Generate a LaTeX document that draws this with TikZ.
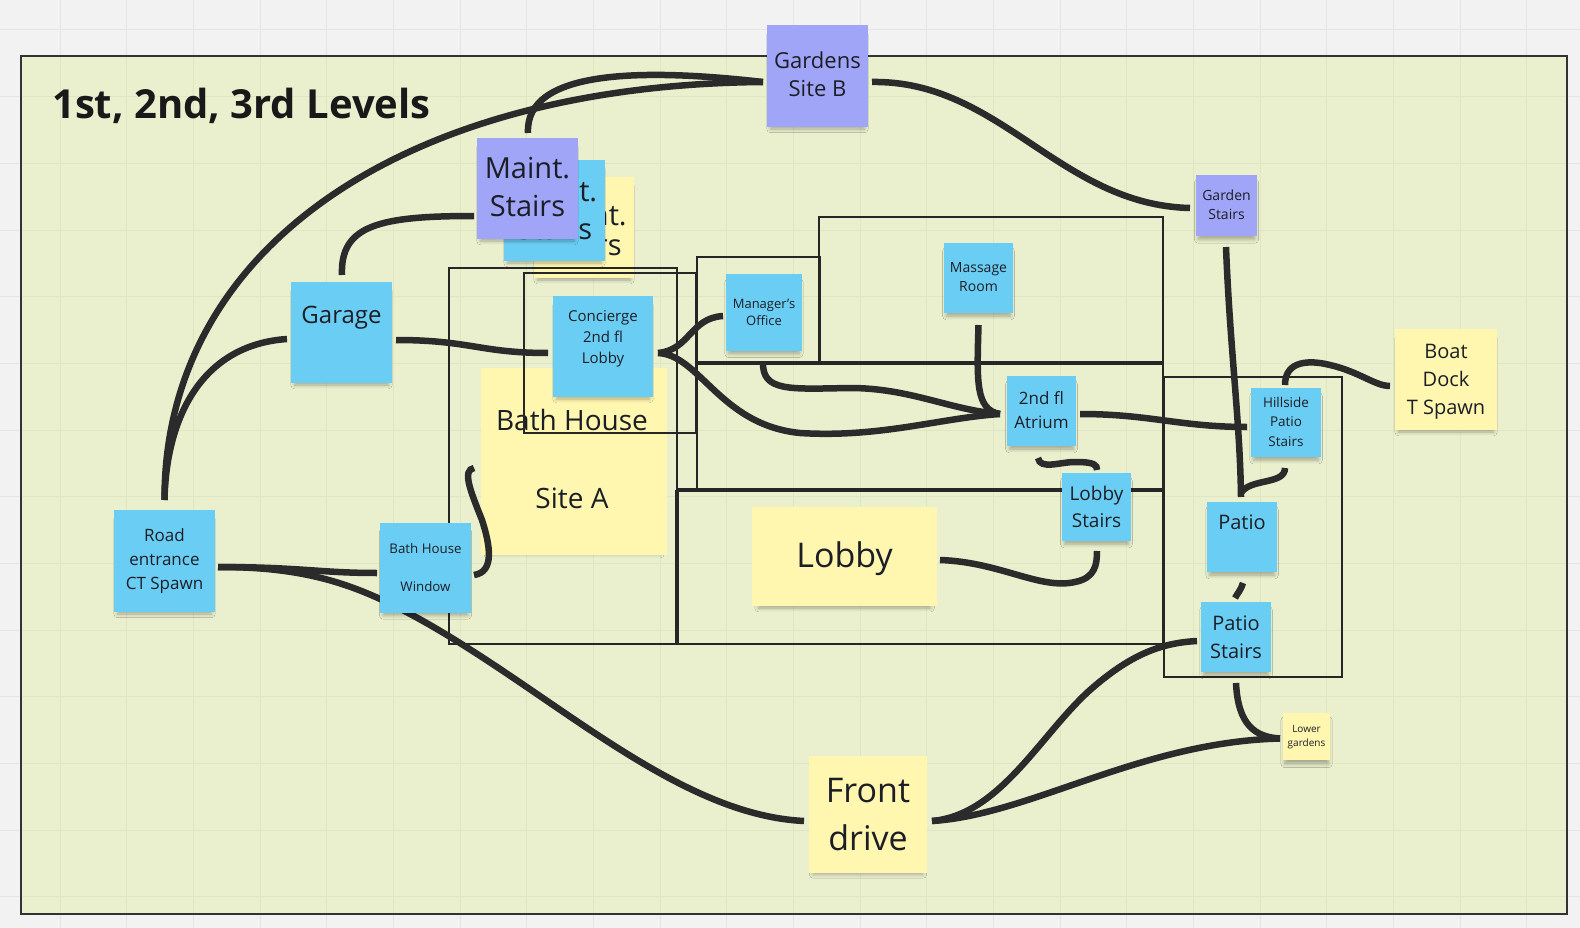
\documentclass[tikz,border=0pt]{standalone}
\usepackage{fontspec}
\setmainfont{Open Sans}
\usetikzlibrary{calc,shadows.blur}
\definecolor{outbg}{RGB}{242,242,242}
\definecolor{outgrid}{RGB}{229,229,229}
\definecolor{framebg}{RGB}{234,240,206}
\definecolor{ingrid}{RGB}{223,230,195}
\definecolor{nblue}{RGB}{106,206,244}
\definecolor{npurple}{RGB}{160,165,248}
\definecolor{nyellow}{RGB}{255,246,176}
\definecolor{ink}{RGB}{28,30,38}
\definecolor{wire}{RGB}{43,43,43}
\newcommand{\stfont}[1]{\fontsize{#1}{#1}\selectfont}
\begin{document}
\begin{tikzpicture}[x=1pt,y=-1pt,
  sticky/.style={inner sep=0pt, outer sep=0pt, blur shadow={shadow xshift=0pt, shadow yshift=-6pt, shadow blur radius=4pt, shadow blur steps=6, shadow opacity=30, shadow scale=0.93}},
  lbl/.style={anchor=base, inner sep=0pt, text=ink},
  wall/.style={draw=black!85, line width=1.4pt},
  thickwall/.style={draw=black!85, line width=3.2pt},
  link/.style={draw=wire, line width=6.5pt}]
\useasboundingbox (0,0) rectangle (1580,928);
% background, grid and board frame
\fill[outbg] (0,0) rectangle (1580,928);
\foreach \k in {0,...,22} \draw[outgrid, line width=1pt] ({60+66.667*\k},0) -- ({60+66.667*\k},928);
\foreach \k in {0,...,13} \draw[outgrid, line width=1pt] (0,{30+66.667*\k}) -- (1580,{30+66.667*\k});
\fill[framebg] (21,56) rectangle (1567,914);
\begin{scope}
\clip (21,56) rectangle (1567,914);
\foreach \k in {0,...,22} \draw[ingrid, line width=1pt] ({60+66.667*\k},0) -- ({60+66.667*\k},928);
\foreach \k in {0,...,13} \draw[ingrid, line width=1pt] (0,{30+66.667*\k}) -- (1580,{30+66.667*\k});
\end{scope}
\draw[black!80, line width=1.3pt] (21,56) rectangle (1567,914);

\node[anchor=base west, inner sep=0pt, text=black!90, font=\bfseries\stfont{40}] (title) at (52,119) {1st, 2nd, 3rd Levels};

% notes lying below the room outlines
\node[sticky, fill=nyellow, minimum width=186, minimum height=187] (bathhouse) at (574,461.5) {};
\node[lbl, font=\stfont{28}] (bathhouse-a) at (572,430) {Bath House};
\node[lbl, font=\stfont{28}] (bathhouse-b) at (572,508) {Site A};
\node[sticky, fill=nyellow, minimum width=100, minimum height=101] (mst3) at (584,227.5) {};
\node[lbl, font=\stfont{29}] (mst3-a) at (584,226) {Maint.};
\node[lbl, font=\stfont{29}] (mst3-b) at (584,256) {Stairs};

% room outlines
\draw[wall] (449,268) rectangle (677,644);
\draw[wall] (524,273) rectangle (696,433);
\draw[wall] (697,257) rectangle (820,363);
\draw[wall] (819,217) rectangle (1163,363);
\draw[wall] (697,363) rectangle (1163,490);
\draw[wall] (677,490) rectangle (1163,644);
\draw[wall] (1164,377) rectangle (1342,677);
\draw[thickwall] (697,363) -- (1163,363);
\draw[thickwall] (677,490) -- (1163,490);
\draw[thickwall] (677,490) -- (677,644);

% notes
\node[sticky, fill=npurple, minimum width=101, minimum height=102] (gardens) at (817.5,76) {};
\node[lbl, font=\stfont{22}] (gardens-a) at (817.5,69) {Gardens};
\node[lbl, font=\stfont{22}] (gardens-b) at (817.5,97) {Site B};

\node[sticky, fill=nblue, minimum width=101, minimum height=101] (mst2) at (554.5,210.5) {};
\node[lbl, font=\stfont{29}] (mst2-a) at (554.5,202) {Maint.};
\node[lbl, font=\stfont{29}] (mst2-b) at (554.5,240) {Stairs};
\node[sticky, fill=npurple, minimum width=101, minimum height=101] (mst1) at (527.5,188.5) {};
\node[lbl, font=\stfont{29}] (mst1-a) at (527.5,179) {Maint.};
\node[lbl, font=\stfont{29}] (mst1-b) at (527.5,217) {Stairs};

\node[sticky, fill=nblue, minimum width=101, minimum height=101] (garage) at (341.5,332.5) {};
\node[lbl, font=\stfont{24}] (garage-a) at (341.5,323) {Garage};

\node[sticky, fill=nblue, minimum width=100, minimum height=101] (concierge) at (603,346.5) {};
\node[lbl, font=\stfont{15}] (concierge-a) at (603,321) {Concierge};
\node[lbl, font=\stfont{15}] (concierge-b) at (603,342) {2nd fl};
\node[lbl, font=\stfont{15}] (concierge-c) at (603,363) {Lobby};

\node[sticky, fill=nblue, minimum width=101, minimum height=102] (road) at (164.5,561) {};
\node[lbl, font=\stfont{17}] (road-a) at (164.5,541.5) {Road};
\node[lbl, font=\stfont{17}] (road-b) at (164.5,565.5) {entrance};
\node[lbl, font=\stfont{17}] (road-c) at (164.5,589.5) {CT Spawn};

\node[sticky, fill=nblue, minimum width=76, minimum height=77] (manager) at (764,312.5) {};
\node[lbl, font=\stfont{13}] (manager-a) at (764,308) {Manager's};
\node[lbl, font=\stfont{13}] (manager-b) at (764,325) {Office};

\node[sticky, fill=nblue, minimum width=69, minimum height=70] (massage) at (978.5,278) {};
\node[lbl, font=\stfont{14}] (massage-a) at (978.5,272.5) {Massage};
\node[lbl, font=\stfont{14}] (massage-b) at (978.5,291.5) {Room};

\node[sticky, fill=nblue, minimum width=69, minimum height=70] (atrium) at (1041.5,411) {};
\node[lbl, font=\stfont{17}] (atrium-a) at (1041.5,404) {2nd fl};
\node[lbl, font=\stfont{17}] (atrium-b) at (1041.5,428) {Atrium};

\node[sticky, fill=nblue, minimum width=69, minimum height=68] (lobbystairs) at (1096.5,507) {};
\node[lbl, font=\stfont{19}] (lobbystairs-a) at (1096.5,500.5) {Lobby};
\node[lbl, font=\stfont{19}] (lobbystairs-b) at (1096.5,527) {Stairs};

\node[sticky, fill=nyellow, minimum width=185, minimum height=99] (lobby) at (844.5,556.5) {};
\node[lbl, font=\stfont{34}] (lobby-a) at (844.5,567.5) {Lobby};

\node[sticky, fill=npurple, minimum width=61, minimum height=61] (gardenstairs) at (1226.5,205.5) {};
\node[lbl, font=\stfont{14}] (gardenstairs-a) at (1226.5,201) {Garden};
\node[lbl, font=\stfont{14}] (gardenstairs-b) at (1226.5,220) {Stairs};

\node[sticky, fill=nyellow, minimum width=102, minimum height=101] (boat) at (1446,379.5) {};
\node[lbl, font=\stfont{20}] (boat-a) at (1446,358) {Boat};
\node[lbl, font=\stfont{20}] (boat-b) at (1446,386) {Dock};
\node[lbl, font=\stfont{20}] (boat-c) at (1446,414) {T Spawn};

\node[sticky, fill=nblue, minimum width=70, minimum height=69] (hillside) at (1286,422.5) {};
\node[lbl, font=\stfont{13.5}] (hillside-a) at (1286,407) {Hillside};
\node[lbl, font=\stfont{13.5}] (hillside-b) at (1286,426.5) {Patio};
\node[lbl, font=\stfont{13.5}] (hillside-c) at (1286,446) {Stairs};

\node[sticky, fill=nblue, minimum width=70, minimum height=70] (patio) at (1242,537) {};
\node[lbl, font=\stfont{20}] (patio-a) at (1242,529) {Patio};

\node[sticky, fill=nblue, minimum width=70, minimum height=70] (patiostairs) at (1236,637) {};
\node[lbl, font=\stfont{20}] (patiostairs-a) at (1236,630) {Patio};
\node[lbl, font=\stfont{20}] (patiostairs-b) at (1236,658) {Stairs};

\node[sticky, fill=nyellow, minimum width=47, minimum height=47] (lower) at (1306.5,736.5) {};
\node[lbl, font=\stfont{10}] (lower-a) at (1306.5,732.5) {Lower};
\node[lbl, font=\stfont{10}] (lower-b) at (1306.5,746.5) {gardens};

\node[sticky, fill=nyellow, minimum width=118, minimum height=117] (front) at (868,814.5) {};
\node[lbl, font=\stfont{34}] (front-a) at (868,802) {Front};
\node[lbl, font=\stfont{34}] (front-b) at (868,850) {drive};

% the road line runs beneath the Bath House Window note
\draw[link] ($(road.east)+(3,6)$) .. controls (310,567) and (360,585) .. (430,625) .. controls (560,700) and (680,815) .. ($(front.west)+(-5,6.5)$);

\node[sticky, fill=nblue, minimum width=91, minimum height=90] (window) at (425.5,568) {};
\node[lbl, font=\stfont{13.3}] (window-a) at (425.5,553) {Bath House};
\node[lbl, font=\stfont{13.3}] (window-b) at (425.5,591) {Window};

% connectors
\draw[link] ($(road.north)+(0,-10)$) .. controls (164,250) and (400,85) .. ($(gardens.west)+(-4,6)$);
\draw[link] ($(garage.west)+(-4,6.5)$) .. controls (200,345) and (166,420) .. ($(road.north)+(0,-10)$);
\draw[link] ($(mst1.north)+(0.5,-5)$) .. controls (525,70) and (640,68) .. ($(gardens.west)+(-4,6)$);
\draw[link] ($(garage.north)+(0.5,-7)$) .. controls (340,225) and (380,216) .. ($(mst1.west)+(-3,27.5)$);
\draw[link] ($(garage.east)+(4,7.5)$) .. controls (470,340) and (480,353) .. ($(concierge.west)+(-5,6.5)$);
\draw[link] ($(concierge.east)+(5,6.5)$) .. controls (690,350) and (690,318) .. ($(manager.west)+(-3,3.5)$);
\draw[link] ($(concierge.east)+(5,6.5)$) .. controls (700,355) and (720,425) .. (800,433) .. controls (880,438) and (940,418) .. ($(atrium.west)+(-7,3)$);
\draw[link] ($(manager.south)+(-1,11)$) .. controls (762,392) and (790,389) .. (850,388) .. controls (910,388) and (950,410) .. ($(atrium.west)+(-7,3)$);
\draw[link] ($(massage.south)+(0,12)$) .. controls (977,380) and (975,410) .. ($(atrium.west)+(-7,3)$);
\draw[link] ($(atrium.east)+(4,3)$) .. controls (1150,414) and (1180,427) .. ($(hillside.west)+(-4,4.5)$);
\draw[link] ($(atrium.south)+(-3.5,12)$) .. controls (1040,470) and (1060,462) .. (1075,462) .. controls (1095,462) and (1097,465) .. ($(lobbystairs.north)+(0.5,-3)$);
\draw[link] ($(lobby.east)+(3,3.5)$) .. controls (1000,562) and (1040,590) .. (1075,582) .. controls (1095,578) and (1097,565) .. ($(lobbystairs.south)+(0.5,10)$);
\draw[link] ($(window.east)+(3,7)$) .. controls (495,572) and (490,545) .. (482,520) .. controls (470,490) and (462,470) .. ($(bathhouse.west)+(-7,6.5)$);
\draw[link] ($(road.east)+(3,6)$) .. controls (300,567) and (320,573) .. ($(window.west)+(-3,5)$);
\draw[link] ($(gardens.east)+(4,6)$) .. controls (1000,80) and (1060,205) .. ($(gardenstairs.west)+(-6,2.5)$);
\draw[link] ($(gardenstairs.south)+(-0.5,11)$) .. controls (1230,350) and (1240,420) .. ($(patio.north)+(-1,-5)$);
\draw[link] ($(hillside.south)+(-1,11)$) .. controls (1285,485) and (1250,478) .. ($(patio.north)+(-1,-9)$);
\draw[link] ($(hillside.north)+(-1,-3)$) .. controls (1285,360) and (1310,360) .. (1330,365) .. controls (1360,372) and (1375,386) .. ($(boat.west)+(-5,6.5)$);
\draw[link] ($(patio.south)+(1,11)$) .. controls (1241,590) and (1237,594) .. ($(patiostairs.north)+(-1,-4)$);
\draw[link] ($(patiostairs.west)+(-4,4)$) .. controls (1160,643) and (1130,655) .. (1090,690) .. controls (1040,735) and (1000,815) .. ($(front.east)+(5,6.5)$);
\draw[link] ($(patiostairs.south)+(0,11)$) .. controls (1238,725) and (1255,737) .. ($(lower.west)+(-3,2)$);
\draw[link] ($(front.east)+(5,6.5)$) .. controls (1030,815) and (1140,742) .. ($(lower.west)+(-3,2)$);
\end{tikzpicture}
\end{document}
